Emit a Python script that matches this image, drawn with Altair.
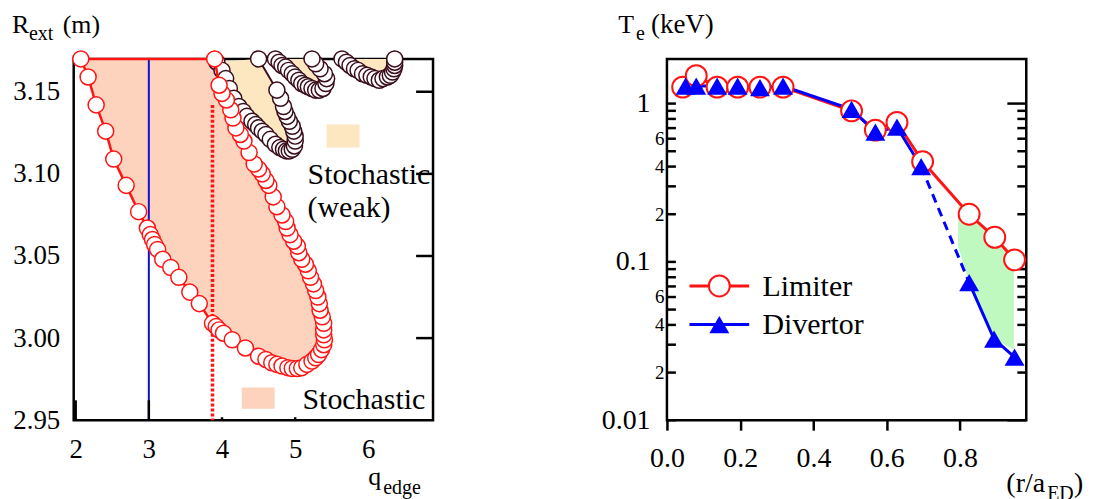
import altair as alt
import pandas as pd

FONT = "Liberation Serif"
RED = "#ff1414"
BLUE = "#0000ff"
DARK = "#3a0d1c"
PEACH = "#fdd3be"
BEIGE = "#fde7c1"
GREEN = "#c0f9c0"
W, H = 361, 363

# ---------------- Left panel data (q_edge, R_ext) ----------------
red_q = [2.07, 2.17, 2.28, 2.41, 2.52, 2.69, 2.86, 2.98, 3.02, 3.05, 3.08, 3.12, 3.19, 3.30, 3.41, 3.56,
         3.69, 3.87, 3.92, 3.96, 4.02, 4.14, 4.32, 4.50, 4.60, 4.68, 4.75, 4.82, 4.90, 4.96, 5.03, 5.09,
         5.16, 5.23, 5.28, 5.32, 5.36, 5.39, 5.40, 5.39, 5.39, 5.39, 5.37, 5.34, 5.33, 5.31, 5.28, 5.25,
         5.21, 5.18, 5.14, 5.09, 5.05, 5.03, 4.98, 4.93, 4.89, 4.87, 4.82, 4.75, 4.70, 4.64, 4.60, 4.55,
         4.50, 4.44, 4.37, 4.30, 4.25, 4.19, 4.15, 4.12, 4.06, 4.00, 3.96, 3.90]
red_R = [3.170, 3.159, 3.142, 3.126, 3.109, 3.093, 3.077, 3.067, 3.063, 3.060, 3.057, 3.054, 3.048, 3.043, 3.037, 3.028,
         3.021, 3.009, 3.007, 3.005, 3.003, 2.999, 2.994, 2.989, 2.987, 2.985, 2.984, 2.983, 2.982, 2.9815, 2.9815, 2.982,
         2.984, 2.986, 2.988, 2.990, 2.993, 2.996, 2.999, 3.002, 3.005, 3.009, 3.013, 3.017, 3.021, 3.025, 3.029, 3.033,
         3.037, 3.041, 3.045, 3.048, 3.052, 3.056, 3.059, 3.063, 3.067, 3.071, 3.075, 3.080, 3.086, 3.093, 3.096, 3.100,
         3.103, 3.106, 3.113, 3.120, 3.124, 3.128, 3.134, 3.139, 3.145, 3.149, 3.154, 3.170]

weak1_q = [3.93, 4.00, 4.05, 4.10, 4.16, 4.23, 4.29, 4.34, 4.41, 4.46, 4.50, 4.55, 4.60, 4.66, 4.73, 4.79,
           4.84, 4.88, 4.92, 4.96, 4.99, 5.00, 5.00, 4.98, 4.96, 4.92, 4.89, 4.86, 4.84, 4.80, 4.75, 4.50]
weak1_R = [3.168, 3.163, 3.158, 3.152, 3.146, 3.141, 3.138, 3.135, 3.132, 3.130, 3.128, 3.126, 3.124, 3.121, 3.118, 3.116,
           3.115, 3.114, 3.114, 3.115, 3.117, 3.120, 3.123, 3.126, 3.129, 3.132, 3.135, 3.138, 3.141, 3.146, 3.151, 3.170]

weak2_q = [4.73, 4.78, 4.82, 4.87, 4.91, 4.96, 5.00, 5.05, 5.09, 5.14, 5.18, 5.23, 5.28, 5.33, 5.38, 5.42,
           5.43, 5.40, 5.34, 5.28, 5.23]
weak2_R = [3.170, 3.168, 3.166, 3.165, 3.163, 3.161, 3.159, 3.157, 3.155, 3.154, 3.153, 3.152, 3.151, 3.151, 3.152, 3.155,
           3.158, 3.161, 3.164, 3.167, 3.170]

weak3_q = [5.64, 5.70, 5.75, 5.81, 5.86, 5.92, 5.98, 6.04, 6.09, 6.15, 6.20, 6.26, 6.30, 6.33, 6.35, 6.36, 6.36, 6.36]
weak3_R = [3.170, 3.168, 3.166, 3.164, 3.163, 3.161, 3.160, 3.159, 3.158, 3.157, 3.158, 3.159, 3.160, 3.162, 3.164,
           3.166, 3.168, 3.170]

q_ticks = [2, 3, 4, 5, 6]
R_ticks = [2.95, 3.00, 3.05, 3.10, 3.15]
R_inner_ticks = [3.00, 3.05, 3.10, 3.15]
q_long_ticks = [2, 3]
q_short_ticks = [4, 5]

# ---------------- Right panel data (r/a, Te) ----------------
lim_r = [0.043, 0.080, 0.137, 0.193, 0.254, 0.317, 0.504, 0.569, 0.628, 0.698, 0.825, 0.895, 0.949]
lim_T = [1.27, 1.50, 1.27, 1.27, 1.27, 1.27, 0.90, 0.68, 0.76, 0.43, 0.20, 0.143, 0.103]
div_r = [0.051, 0.080, 0.137, 0.193, 0.254, 0.317, 0.504, 0.569, 0.628, 0.694, 0.825, 0.893, 0.949]
div_T = [1.29, 1.29, 1.29, 1.29, 1.26, 1.29, 0.92, 0.66, 0.71, 0.40, 0.074, 0.0325, 0.025]
green_r = [0.795, 0.825, 0.895, 0.947, 0.947, 0.893, 0.825, 0.795]
green_T = [0.235, 0.20, 0.143, 0.10, 0.028, 0.0325, 0.074, 0.125]

r_ticks = [0.0, 0.2, 0.4, 0.6, 0.8]
T_label_ticks = [0.01, 0.02, 0.04, 0.06, 0.1, 0.2, 0.4, 0.6, 1.0]
T_minor = [0.02, 0.03, 0.04, 0.05, 0.06, 0.07, 0.08, 0.09, 0.2, 0.3, 0.4, 0.5, 0.6, 0.7, 0.8, 0.9]
T_major = [0.01, 0.1, 1.0]


def path_df(xs, ys, xn, yn):
    assert len(xs) == len(ys)
    return pd.DataFrame({xn: xs, yn: ys, "i": list(range(len(xs)))})


# ================= LEFT PANEL =================
xq = alt.X("q:Q", scale=alt.Scale(domain=[1.973, 6.884], nice=False, zero=False),
           axis=alt.Axis(values=q_ticks, format="d", ticks=False, domain=False, grid=False, labelFlush=False,
                         labelFont=FONT, labelFontSize=27, labelColor="black", labelPadding=16, title=None))
yR = alt.Y("R:Q", scale=alt.Scale(domain=[2.95, 3.17], nice=False, zero=False),
           axis=alt.Axis(values=R_ticks, format=".2f", ticks=False, domain=False, grid=False, labelFlush=False,
                         labelFont=FONT, labelFontSize=27, labelColor="black", labelPadding=14, title=None))
xq2 = alt.X("q:Q")
yR2 = alt.Y("R:Q")

red_df = path_df(red_q, red_R, "q", "R")
red_closed = path_df(red_q + [red_q[0]], red_R + [red_R[0]], "q", "R")
w1 = path_df(weak1_q, weak1_R, "q", "R")
w2 = path_df(weak2_q, weak2_R, "q", "R")
w3 = path_df(weak3_q, weak3_R, "q", "R")


def fill_poly(df, color, x, y):
    return alt.Chart(df).mark_line(fill=color, strokeOpacity=0, strokeWidth=0).encode(x=x, y=y, order="i:Q")


L = []
L.append(fill_poly(red_df, PEACH, xq, yR))
for w in (w1, w2, w3):
    L.append(fill_poly(w, BEIGE, xq2, yR2))

# legend swatches
L.append(alt.Chart(pd.DataFrame({"q": [5.43], "q2": [5.88], "R": [3.116], "R2": [3.130]}))
         .mark_rect(color=BEIGE).encode(x=xq2, x2="q2:Q", y=yR2, y2="R2:Q"))
L.append(alt.Chart(pd.DataFrame({"q": [4.27], "q2": [4.72], "R": [2.957], "R2": [2.970]}))
         .mark_rect(color=PEACH).encode(x=xq2, x2="q2:Q", y=yR2, y2="R2:Q"))

# vertical lines
L.append(alt.Chart(pd.DataFrame({"q": [3.0], "R": [3.17], "R2": [2.95]}))
         .mark_rule(color="#1010d0", strokeWidth=2).encode(x=xq2, y=yR2, y2="R2:Q"))
L.append(alt.Chart(pd.DataFrame({"q": [3.87], "R": [3.142], "R2": [2.95]}))
         .mark_rule(color=RED, strokeWidth=3.5, strokeDash=[3, 2]).encode(x=xq2, y=yR2, y2="R2:Q"))

# inner ticks
L.append(alt.Chart(pd.DataFrame({"R": R_inner_ticks})).mark_rule(color="black", strokeWidth=2.5)
         .encode(y=yR2, x=alt.value(W - 17), x2=alt.value(W)))
L.append(alt.Chart(pd.DataFrame({"q": q_long_ticks})).mark_rule(color="black", strokeWidth=2.5)
         .encode(x=xq2, y=alt.value(H - 20), y2=alt.value(H)))
L.append(alt.Chart(pd.DataFrame({"q": q_short_ticks})).mark_rule(color="black", strokeWidth=2.5)
         .encode(x=xq2, y=alt.value(H - 3), y2=alt.value(H)))

# weak stochastic series
for w in (w1, w2, w3):
    L.append(alt.Chart(w).mark_line(color=DARK, strokeWidth=2).encode(x=xq2, y=yR2, order="i:Q"))
    L.append(alt.Chart(w).mark_point(shape="circle", filled=True, fill="white", stroke=DARK, strokeWidth=1.5,
                                     size=260, opacity=1).encode(x=xq2, y=yR2))

# stochastic boundary
L.append(alt.Chart(red_closed).mark_line(color=RED, strokeWidth=2.5).encode(x=xq2, y=yR2, order="i:Q"))
L.append(alt.Chart(red_df).mark_point(shape="circle", filled=True, fill="white", stroke=RED, strokeWidth=1.5,
                                      size=260, opacity=1).encode(x=xq2, y=yR2))

# annotation texts (data coords)
ann_left = pd.DataFrame({"q": [5.17, 5.17, 5.10], "R": [3.0936, 3.0736, 2.9569],
                         "t": ["Stochastic", "(weak)", "Stochastic"]})
L.append(alt.Chart(ann_left).mark_text(font=FONT, fontSize=30, align="left", baseline="alphabetic", color="black")
         .encode(x=xq2, y=yR2, text="t:N"))


def ptext(txt, x, y, size):
    return (alt.Chart(pd.DataFrame({"t": [txt]}))
            .mark_text(font=FONT, fontSize=size, align="left", baseline="alphabetic", color="black")
            .encode(text="t:N", x=alt.value(x), y=alt.value(y)))


L.append(ptext("R", -62, -26, 26))
L.append(ptext("ext", -45, -19, 20))
L.append(ptext("(m)", -11, -26, 26))
L.append(ptext("q", 296, 428, 26))
L.append(ptext("edge", 311, 437, 20))

left = alt.layer(*L).properties(width=W, height=H)

# ================= RIGHT PANEL =================
label_expr = ("datum.value < 0.015 ? '0.01' : datum.value < 0.095 ? format(datum.value*100, '.0f') : "
              "datum.value < 0.15 ? '0.1' : datum.value < 0.95 ? format(datum.value*10, '.0f') : '1'")
big_test = "datum.value < 0.015 || (datum.value > 0.095 && datum.value < 0.15) || datum.value > 0.95"

xr = alt.X("r:Q", scale=alt.Scale(domain=[0, 0.981], nice=False, zero=False),
           axis=alt.Axis(values=r_ticks, format=".1f", tickSize=10, tickWidth=2.5, tickColor="black",
                         domain=False, grid=False, labelFlush=False, labelFont=FONT, labelFontSize=28,
                         labelColor="black", labelPadding=14, title=None))
yT = alt.Y("T:Q", scale=alt.Scale(type="log", domain=[0.01, 1.915], nice=False),
           axis=alt.Axis(values=T_label_ticks, labelExpr=label_expr, ticks=False, domain=False, grid=False,
                         labelFont=FONT, labelColor="black", labelFlush=False,
                         labelFontSize={"condition": {"test": big_test, "value": 28}, "value": 19},
                         labelPadding={"condition": {"test": big_test, "value": 17}, "value": 3},
                         title=None))
xr2 = alt.X("r:Q")
yT2 = alt.Y("T:Q")

lim_df = path_df(lim_r, lim_T, "r", "T")
div_df = path_df(div_r, div_T, "r", "T")
div_s1 = path_df(div_r[:10], div_T[:10], "r", "T")
div_dash = path_df(div_r[9:11], div_T[9:11], "r", "T")
div_s2 = path_df(div_r[10:], div_T[10:], "r", "T")
green_df = path_df(green_r, green_T, "r", "T")

Rl = []
Rl.append(fill_poly(green_df, GREEN, xr, yT))
Rl.append(alt.Chart(pd.DataFrame({"T": T_minor + T_major})).mark_rule(color="black", strokeWidth=2.5)
          .encode(y=yT2, x=alt.value(0), x2=alt.value(9)))
Rl.append(alt.Chart(pd.DataFrame({"T": T_minor})).mark_rule(color="black", strokeWidth=2.5)
          .encode(y=yT2, x=alt.value(W - 9), x2=alt.value(W)))
Rl.append(alt.Chart(pd.DataFrame({"T": T_major})).mark_rule(color="black", strokeWidth=2.5)
          .encode(y=yT2, x=alt.value(W - 19), x2=alt.value(W)))

Rl.append(alt.Chart(lim_df).mark_line(color=RED, strokeWidth=3).encode(x=xr2, y=yT2, order="i:Q"))
Rl.append(alt.Chart(div_s1).mark_line(color=BLUE, strokeWidth=3).encode(x=xr2, y=yT2, order="i:Q"))
Rl.append(alt.Chart(div_dash).mark_line(color=BLUE, strokeWidth=3, strokeDash=[9, 6]).encode(x=xr2, y=yT2, order="i:Q"))
Rl.append(alt.Chart(div_s2).mark_line(color=BLUE, strokeWidth=3).encode(x=xr2, y=yT2, order="i:Q"))
Rl.append(alt.Chart(lim_df).mark_point(shape="circle", filled=True, fill="white", stroke=RED, strokeWidth=2,
                                       size=441, opacity=1).encode(x=xr2, y=yT2))
Rl.append(alt.Chart(div_df).mark_point(shape="triangle-up", filled=True, color=BLUE, size=400, opacity=1)
          .encode(x=xr2, y=yT2))

# legend
leg_line_r = [0.0615, 0.2245]
leg_T = [0.0705, 0.0402]
leg_mark_r = 0.143
leg_text_r = 0.261
leg_text_T = [0.061, 0.0349]
Rl.append(alt.Chart(pd.DataFrame({"r": [leg_line_r[0]], "r2": [leg_line_r[1]], "T": [leg_T[0]]}))
          .mark_rule(color=RED, strokeWidth=3).encode(x=xr2, x2="r2:Q", y=yT2))
Rl.append(alt.Chart(pd.DataFrame({"r": [leg_line_r[0]], "r2": [leg_line_r[1]], "T": [leg_T[1]]}))
          .mark_rule(color=BLUE, strokeWidth=3).encode(x=xr2, x2="r2:Q", y=yT2))
Rl.append(alt.Chart(pd.DataFrame({"r": [leg_mark_r], "T": [leg_T[0]]}))
          .mark_point(shape="circle", filled=True, fill="white", stroke=RED, strokeWidth=2, size=441, opacity=1)
          .encode(x=xr2, y=yT2))
Rl.append(alt.Chart(pd.DataFrame({"r": [leg_mark_r], "T": [leg_T[1]]}))
          .mark_point(shape="triangle-up", filled=True, color=BLUE, size=400, opacity=1)
          .encode(x=xr2, y=yT2))
Rl.append(alt.Chart(pd.DataFrame({"r": [leg_text_r, leg_text_r], "T": leg_text_T, "t": ["Limiter", "Divertor"]}))
          .mark_text(font=FONT, fontSize=30, align="left", baseline="alphabetic", color="black")
          .encode(x=xr2, y=yT2, text="t:N"))

Rl.append(ptext("T", -49, -26, 26))
Rl.append(ptext("e", -31, -19, 20))
Rl.append(ptext("(keV)", -16, -26, 27))
Rl.append(ptext("(r/a", 341, 435, 28))
Rl.append(ptext("ED", 382, 443, 20))
Rl.append(ptext(")", 409, 435, 28))

right = alt.layer(*Rl).properties(width=W, height=H)

chart = (alt.hconcat(left, right, spacing=235, bounds="flush",
                     padding={"left": 2, "top": 0, "right": 0, "bottom": -7}, background="white")
         .configure_view(stroke="black", strokeWidth=2.5))

chart.save("out.html", embed_options={"renderer": "svg", "actions": False})
